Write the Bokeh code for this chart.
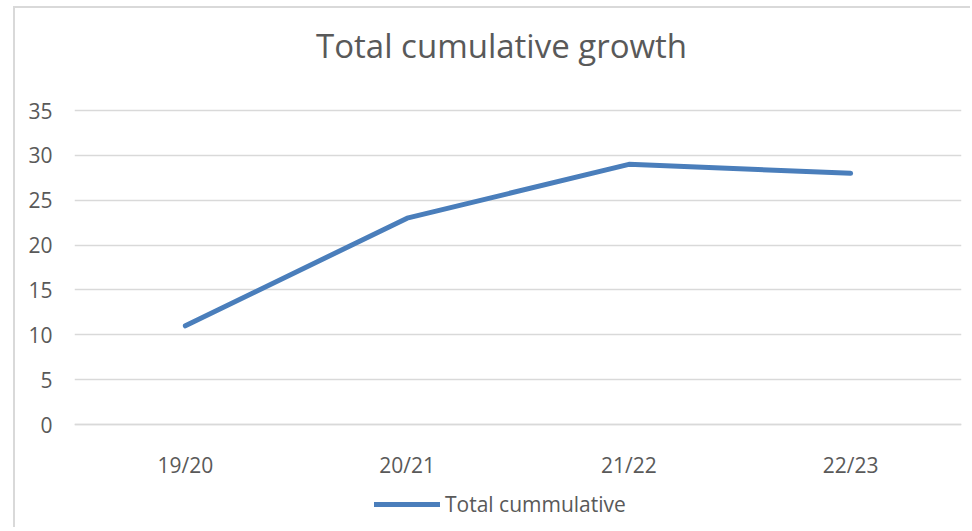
from bokeh.plotting import figure
from bokeh.models import ColumnDataSource, Legend, LegendItem, FixedTicker, Range1d, Label
from bokeh.embed import file_html
from bokeh.resources import INLINE

categories = ["19/20", "20/21", "21/22", "22/23"]
values = [11, 23, 29, 28]
y_ticks = [0, 5, 10, 15, 20, 25, 30, 35]
series_name = "Total cummulative"
title_text = "Total cumulative growth"

FONT = "Open Sans"
TXT = "#595959"
GRID = "#d9d9d9"

source = ColumnDataSource(dict(x=categories, y=values))

p = figure(x_range=categories, y_range=Range1d(-11.7, 46.37),
           width=957, height=521, output_backend="svg", toolbar_location=None,
           min_border_left=59, min_border_right=11, min_border_top=0,
           min_border_bottom=0)
p.styles = {"margin-left": "13px", "margin-top": "6px",
            "border-left": "2px solid #d9d9d9", "border-top": "2px solid #d9d9d9"}

title = Label(x=1.926, y=42.25, text=title_text, text_align="center",
              text_baseline="middle", text_font=FONT, text_font_size="33px",
              text_color=TXT)
p.add_layout(title)

p.outline_line_color = None
p.xgrid.grid_line_color = None
p.ygrid.grid_line_color = GRID
p.ygrid.grid_line_width = 1.5
p.ygrid.ticker = FixedTicker(ticks=y_ticks)

p.yaxis.ticker = FixedTicker(ticks=y_ticks)
p.yaxis.axis_line_color = None
p.yaxis.major_tick_line_color = None
p.yaxis.minor_tick_line_color = None
p.yaxis.major_label_text_font = FONT
p.yaxis.major_label_text_font_size = "21px"
p.yaxis.major_label_text_color = TXT
p.yaxis.major_label_standoff = 16

p.xaxis.fixed_location = 0
p.xaxis.axis_line_color = GRID
p.xaxis.axis_line_width = 1.5
p.xaxis.major_tick_line_color = None
p.xaxis.minor_tick_line_color = None
p.xaxis.major_label_text_font = FONT
p.xaxis.major_label_text_font_size = "21px"
p.xaxis.major_label_text_color = TXT
p.xaxis.major_label_standoff = 20

r = p.line("x", "y", source=source, line_color="#4a7ebb", line_width=5, line_cap="round")

legend = Legend(items=[LegendItem(label=series_name, renderers=[r])],
                location=(300, 11), orientation="horizontal",
                border_line_color=None, background_fill_alpha=0,
                label_text_font=FONT, label_text_font_size="21px",
                label_text_color=TXT, glyph_width=66, label_standoff=5,
                padding=0, margin=0)
p.add_layout(legend, "center")

open("out.html", "w").write(file_html(p, INLINE))
